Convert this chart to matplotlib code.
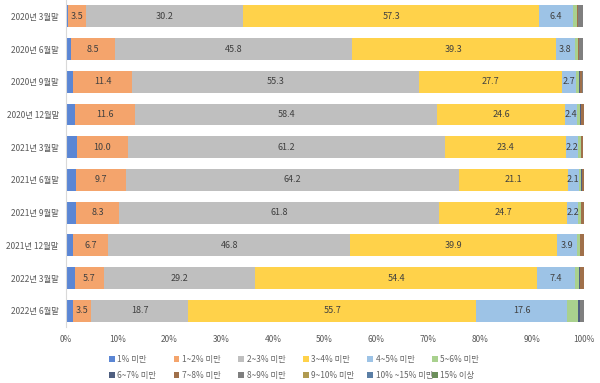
import matplotlib
matplotlib.use("Agg")
import matplotlib.pyplot as plt
import numpy as np

plt.rcParams["font.family"] = ["Noto Sans CJK KR", "DejaVu Sans"]

periods = ["2020년 3월말", "2020년 6월말", "2020년 9월말", "2020년 12월말",
           "2021년 3월말", "2021년 6월말", "2021년 9월말", "2021년 12월말",
           "2022년 3월말", "2022년 6월말"]

series_names = ["1% 미만", "1~2% 미만", "2~3% 미만", "3~4% 미만", "4~5% 미만",
                "5~6% 미만", "6~7% 미만", "7~8% 미만", "8~9% 미만",
                "9~10% 미만", "10% ~15% 미만", "15% 이상"]

under1 = [0.5, 1.0, 1.5, 1.8, 2.1, 2.0, 2.0, 1.5, 1.7, 1.4]
r1_2 = [3.5, 8.5, 11.4, 11.6, 10.0, 9.7, 8.3, 6.7, 5.7, 3.5]
r2_3 = [30.2, 45.8, 55.3, 58.4, 61.2, 64.2, 61.8, 46.8, 29.2, 18.7]
r3_4 = [57.3, 39.3, 27.7, 24.6, 23.4, 21.1, 24.7, 39.9, 54.4, 55.7]
r4_5 = [6.4, 3.8, 2.7, 2.4, 2.2, 2.1, 2.2, 3.9, 7.4, 17.6]
r5_6 = [0.8, 0.5, 0.6, 0.6, 0.6, 0.5, 0.5, 0.5, 0.8, 2.0]
r6_7 = [0.1, 0.1, 0.1, 0.1, 0.1, 0.1, 0.1, 0.1, 0.1, 0.4]
r7_8 = [0.1, 0.1, 0.5, 0.5, 0.4, 0.4, 0.5, 0.6, 0.7, 0.1]
r8_9 = [1.0, 0.8, 0.1, 0.1, 0.1, 0.1, 0.1, 0.1, 0.1, 0.6]
r9_10 = [0.0, 0.0, 0.0, 0.0, 0.0, 0.0, 0.0, 0.0, 0.0, 0.0]
r10_15 = [0.0, 0.0, 0.0, 0.0, 0.0, 0.0, 0.0, 0.0, 0.0, 0.0]
over15 = [0.0, 0.0, 0.0, 0.0, 0.0, 0.0, 0.0, 0.0, 0.0, 0.0]

series = [under1, r1_2, r2_3, r3_4, r4_5, r5_6, r6_7, r7_8, r8_9,
          r9_10, r10_15, over15]
colors = ["#5B86D4", "#F4A46C", "#BFBFBF", "#FFD24A", "#9DC3E6", "#A9D18E",
          "#4F5F80", "#A0704A", "#7F7F7F", "#B09A50", "#5B7FA6", "#6B8E5A"]
labeled = [1, 2, 3, 4]

fig = plt.figure(figsize=(6, 3.83), dpi=100)
ax = fig.add_axes([0.1095, 0.146, 0.863, 0.854])

y = np.arange(len(periods))
left = np.zeros(len(periods))
for i, (vals, c) in enumerate(zip(series, colors)):
    vals = np.array(vals)
    ax.barh(y, vals, left=left, height=0.67, color=c, label=series_names[i])
    if i in labeled:
        for yi, l, v in zip(y, left, vals):
            ax.text(l + v / 2, yi, f"{v:.1f}", ha="center", va="center",
                    fontsize=6.5, color="#404040")
    left += vals

ax.set_ylim(len(periods) - 0.5, -0.5)
ax.set_xlim(0, 100)
ax.set_xticks(np.arange(0, 101, 10))
ax.set_xticklabels([f"{t}%" for t in range(0, 101, 10)])
ax.set_yticks(y)
ax.set_yticklabels(periods)
ax.tick_params(axis="both", length=0, labelsize=6, colors="#595959")
ax.tick_params(axis="y", pad=5)
ax.tick_params(axis="x", pad=6)
for s in ["top", "right", "bottom"]:
    ax.spines[s].set_visible(False)
ax.spines["left"].set_color("#D9D9D9")

# legend: 6 fixed-width columns, 2 rows
handles, labels = ax.get_legend_handles_labels()
for k in range(6):
    fig.legend([handles[k], handles[k + 6]], [labels[k], labels[k + 6]],
               loc="upper left",
               bbox_to_anchor=((109 + 64.6 * k) / 600, 1 - 355 / 383),
               frameon=False, fontsize=6, handlelength=0.7,
               handleheight=0.7, handletextpad=0.3, borderpad=0,
               borderaxespad=0, labelspacing=0.8, labelcolor="#666666")

fig.savefig("out.png", dpi=100)
